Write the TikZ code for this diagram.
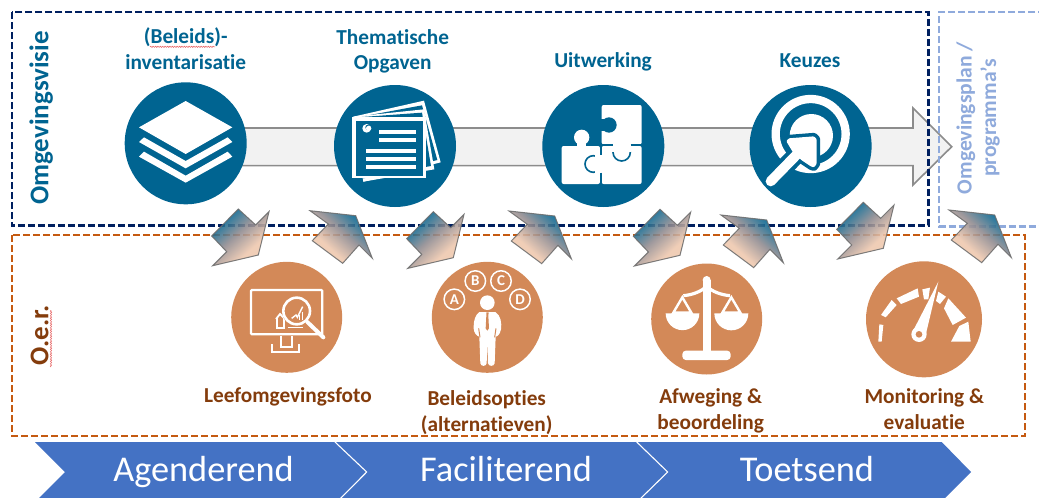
\documentclass[tikz,border=0pt]{standalone}
\usepackage{fontspec}
\setmainfont[Ligatures=NoCommon]{Carlito}
\usetikzlibrary{decorations.pathmorphing}
\definecolor{tblue}{HTML}{006491}
\definecolor{torange}{HTML}{D38958}
\definecolor{tbrown}{HTML}{843C0C}
\definecolor{framenavy}{HTML}{002060}
\definecolor{frameorange}{HTML}{C55A11}
\definecolor{framelight}{HTML}{8FAADC}
\definecolor{bandblue}{HTML}{4472C4}
\definecolor{peach}{HTML}{EFC8AE}
\definecolor{midgrey}{HTML}{8F8A8F}
\definecolor{squig}{HTML}{E86A6A}
\pgfdeclareverticalshading{arrowgrad}{100bp}{color(0bp)=(peach); color(36bp)=(peach); color(54bp)=(midgrey); color(72bp)=(tblue); color(100bp)=(tblue)}
\tikzset{
  x=1pt,y=-1pt,
  frame/.style={line width=2.6pt,dash pattern=on 7pt off 3pt},
  topdisc/.style={circle,fill=tblue,inner sep=0pt,minimum size=122pt},
  lowdisc/.style={circle,fill=torange,inner sep=0pt,minimum size=111pt},
  toplabel/.style={anchor=base,text=tblue,font=\fontsize{21.3}{24}\selectfont\bfseries,inner sep=0pt},
  lowlabel/.style={anchor=base,text=tbrown,font=\fontsize{21.3}{24}\selectfont\bfseries,inner sep=0pt},
  sidelabel/.style={anchor=base,rotate=90,inner sep=0pt,font=\fontsize{27}{30}\selectfont\bfseries},
  planlabel/.style={anchor=base,rotate=90,inner sep=0pt,text=framelight,font=\fontsize{21.6}{26}\selectfont\bfseries},
  bandlabel/.style={anchor=base,text=white,inner sep=0pt,font=\fontsize{36.3}{40}\selectfont},
  wavy/.style={draw=squig,line width=0.6pt,decorate,decoration={snake,amplitude=0.6pt,segment length=2.4pt}},
  smallarrow/.style={draw=gray!85!black,line width=1pt,opacity=0.88,shading=arrowgrad},
  pics/arrowdown/.style={code={
    \path[smallarrow,shade,shading angle=42]
      (0,0)--(17.4,16)--(30.7,2.7)--(20,46)--(-25.6,56.7)--(-11.6,42.7)--(-26.6,27)--cycle;}},
  pics/arrowup/.style={code={
    \path[smallarrow,shade,shading angle=-42]
      (0,0)--(45.7,5)--(62.3,47.6)--(49,34.3)--(32.7,52.6)--(2.3,30)--(18.3,13.3)--cycle;}},
  wl/.style={white,line width=2.3pt},
  icon/.style={x=0.33333pt,y=-0.33333pt},
}
\begin{document}
\begin{tikzpicture}
\useasboundingbox (0,0) rectangle (1039,498);
\fill[white] (0,0) rectangle (1039,498);

% band
\begin{scope}
\clip (0,0) rectangle (1039,498);
\fill[bandblue] (35,442)--(941.7,442)--(971,472)--(941,502)--(35,502)--(65,472)--cycle;
\draw[white,line width=1.1pt] (335,442)--(366.7,472)--(337,502);
\draw[white,line width=1.1pt] (636.7,442)--(667.7,472)--(637,502);
\end{scope}
\node[bandlabel] (b1) at (203.5,481.7) {Agenderend};
\node[bandlabel] (b2) at (506,481.7) {Faciliterend};
\node[bandlabel] (b3) at (807,481.7) {Toetsend};

% big arrow
\draw[fill=black!5,draw=black!45,line width=1.6pt]
  (185,128)--(913,128)--(913,108)--(951.7,146.7)--(913,185)--(913,165.6)--(185,165.6)--cycle;

% frames
\draw[frame,framenavy] (12,12) rectangle (928.5,225.7);
\draw[frame,framelight] (1045,12)--(939,12)--(939,226.5)--(1045,226.5);
\draw[frame,frameorange] (12,235) rectangle (1025,436);

% small arrows
\pic at (238.3,209) {arrowdown};
\pic at (433.3,211.7) {arrowdown};
\pic at (660,209.3) {arrowdown};
\pic at (863.3,202.3) {arrowdown};
\pic at (310,210.7) {arrowup};
\pic at (509,211) {arrowup};
\pic at (721,215) {arrowup};
\pic at (949,210) {arrowup};

% top discs
\node[topdisc] (d1) at (185.7,143.3) {};
\node[topdisc] (d2) at (395,146) {};
\node[topdisc] (d3) at (603.3,146) {};
\node[topdisc] (d4) at (810.6,146) {};
% low discs
\node[lowdisc] (e1) at (286.7,317.3) {};
\node[lowdisc] (e2) at (487.3,317.3) {};
\node[lowdisc] (e3) at (706.7,319) {};
\node[lowdisc,minimum size=116pt] (e4) at (924,319.3) {};

% layers icon
\begin{scope}[shift={(100,0)},icon]
\fill[white] (257,303)--(397,382)--(257,462)--(117,382)--cycle;
\fill[white] (117,426)--(132,412)--(257,483)--(383,412)--(397,426)--(257,505)--cycle;
\fill[white] (117,470)--(132,455)--(257,527)--(383,455)--(397,470)--(257,548)--cycle;
\end{scope}

% documents icon
\begin{scope}[shift={(100,0)},icon]
\fill[white] (760,350)--(972,302)--(1022,487)--(790,545)--cycle;
\fill[tblue] (772,352)--(966,316)--(1012,480)--(790,535)--cycle;
\fill[white] (760,350)--(972,328)--(1003,508)--(790,545)--cycle;
\fill[tblue] (772,352)--(966,338)--(993,498)--(790,535)--cycle;
\fill[white] (757,350) rectangle (978,535);
\fill[tblue] (768,362) rectangle (968,527);
\fill[white] (800,385) circle (13);
\fill[tblue] (804,382) circle (8);
\fill[white] (806,385) circle (8);
\fill[white] (838,390) rectangle (947,401);
\fill[white] (838,415) rectangle (947,426);
\fill[white] (797,448) rectangle (947,459);
\fill[white] (797,472) rectangle (947,483);
\fill[white] (797,496) rectangle (947,507);
\end{scope}

% puzzle icon
\begin{scope}[shift={(540,84)},icon]
\fill[white,rounded corners=2pt] (185,63) rectangle (305,181);
\fill[tblue] (207,123) circle (23);
\fill[tblue] (183,105) rectangle (200,141);
\fill[white,rounded corners=2pt] (185,186) rectangle (305,300);
\fill[white,rounded corners=2pt] (65,186) rectangle (180,300);
\fill[white] (125,160) circle (23);
\fill[white] (112,170) rectangle (138,190);
\draw[tblue,line width=1.6pt,fill=white] (160,240) circle (25);
\fill[white] (166,213) rectangle (190,267);
\draw[tblue,line width=1.6pt] (183,186)--(183,214) (183,266)--(183,302);
\draw[tblue,line width=1.6pt,fill=white] (245,205) circle (26);
\fill[white] (217,168) rectangle (273,205);
\draw[tblue,line width=1.6pt] (183,183.5)--(218,183.5) (272,183.5)--(307,183.5);
\end{scope}

% target icon
\begin{scope}[shift={(748,84)},icon]
\draw[white,line width=8.3pt] (188,150) circle (105);
\fill[white] (190,155) circle (65);
\draw[tblue,line width=18pt] (68,292)--(150,208);
\draw[tblue,line width=7pt,line join=round,fill=tblue] (115,172)--(122,163)--(198,157)--(206,165)--(206,240)--(198,250)--(190,248)--(160,228)--(135,205)--cycle;
\draw[white,line width=10pt,line cap=round] (68,292)--(150,208);
\fill[white,rounded corners=1pt] (115,172)--(122,163)--(198,157)--(206,165)--(206,240)--(198,250)--(190,248)--(160,228)--(135,205)--cycle;
\end{scope}

% monitor icon
\begin{scope}[shift={(190,200)},icon]
\draw[wl,rounded corners=1pt] (183,270) rectangle (397,403);
\draw[white,line width=1.8pt] (272,407)--(272,440)--(305,440)--(305,407);
\draw[white,line width=1.8pt] (247,432)--(247,457)--(327,457)--(327,432);
\draw[white,line width=1.8pt] (258,357)--(270,342)--(285,357);
\draw[white,line width=1.8pt] (262,355)--(262,385)--(283,385)--(283,352);
\fill[torange] (320,333) circle (44);
\draw[white,line width=2.6pt] (320,333) circle (40);
\draw[white,line width=4pt,line cap=round] (352,366)--(400,412);
\draw[white,line width=1.4pt] (305,355)--(318,345)--(322,352)--(338,320);
\draw[white,line width=1.4pt] (328,360)--(328,345) (338,360)--(338,335);
\draw[white,line width=1.4pt] (295,383)--(340,383);
\end{scope}

% person icon
\begin{scope}[shift={(190,200)},icon]
\fill[white] (892,308) circle (22);
\fill[white] (868,336)--(916,336) .. controls (932,345) and (936,370) .. (933,388) .. controls (930,405) and (920,410) .. (917,410)
  --(914,490) .. controls (912,500) and (896,500) .. (894,490)--(892,425)--(890,490) .. controls (888,500) and (873,500) .. (871,490)
  --(868,410) .. controls (860,408) and (852,400) .. (851,385) .. controls (850,365) and (855,345) .. (868,336)--cycle;
\fill[torange] (889,337)--(896,337)--(895,347)--(897,385)--(892,392)--(887,385)--(889,347)--cycle;
\draw[torange,line width=1pt] (866,385)--(870,412) (918,385)--(914,412);
\foreach \cx/\cy/\nm/\lt in {793/298/na/A,856/243/nb/B,933/243/nc/C,990/298/nd/D}{
  \node[circle,draw=white,line width=1.5pt,inner sep=0pt,minimum size=20.5pt,text=white,font=\fontsize{15}{15}\selectfont\bfseries] (\nm) at (\cx,\cy) {\lt};
}
\end{scope}

% scales icon
\begin{scope}[shift={(620,200)},icon]
\fill[white] (250,240) rectangle (272,465);
\fill[white] (260,240) circle (12);
\fill[white,rounded corners=3.5pt] (187,452) rectangle (332,480);
\draw[white,line width=3.2pt] (190,287) .. controls (215,285) and (245,275) .. (260,258) .. controls (275,275) and (305,285) .. (330,287);
\fill[white] (137,340) arc[start angle=180,end angle=0,radius=50.5]--cycle;
\fill[white] (283,340) arc[start angle=180,end angle=0,radius=51]--cycle;
\draw[white,line width=2.4pt] (187,292)--(160,338)--(214,338)--cycle;
\draw[white,line width=2.4pt] (334,292)--(307,338)--(361,338)--cycle;
\end{scope}

% gauge icon
\begin{scope}[shift={(620,200)},icon]
\fill[white] (775,425)--(785,425)--(790,375)--(778,373)--cycle;
\fill[white] (783,345)--(815,300)--(830,315)--(797,352)--cycle;
\fill[white] (830,295)--(893,265)--(897,290)--(843,312)--cycle;
\fill[white] (907,268)--(930,263)--(925,298)--(912,298)--cycle;
\fill[white] (955,275)--(978,290)--(960,312)--(948,303)--cycle;
\fill[white] (985,295)--(1038,353)--(998,375)--(972,325)--cycle;
\fill[white] (1018,378)--(1045,365)--(1052,425)--(993,425)--cycle;
\fill[white] (955,245)--(917,405)--(878,395)--cycle;
\fill[white] (897,403) circle (23);
\fill[torange] (897,403) circle (10);
\end{scope}

% labels
\node[toplabel] (t1a) at (185.7,43.5) {(Beleids)-};
\node[toplabel] (t1b) at (185.7,69) {inventarisatie};
\node[toplabel] (t2a) at (392.7,44) {Thematische};
\node[toplabel] (t2b) at (392.7,69) {Opgaven};
\node[toplabel] (t3) at (603,67.7) {Uitwerking};
\node[toplabel] (t4) at (810,67.7) {Keuzes};
\node[lowlabel] (l1) at (288,402) {Leefomgevingsfoto};
\node[lowlabel] (l2a) at (486.7,405) {Beleidsopties};
\node[lowlabel] (l2b) at (486.7,431) {(alternatieven)};
\node[lowlabel] (l3a) at (710.7,403) {Afweging \&};
\node[lowlabel] (l3b) at (710.7,429) {beoordeling};
\node[lowlabel] (l4a) at (924.3,403) {Monitoring \&};
\node[lowlabel] (l4b) at (924.3,429) {evaluatie};
\node[sidelabel,text=tblue] (s1) at (48.3,118) {Omgevingsvisie};
\node[sidelabel,text=tbrown] (s2) at (48.3,335) {O.e.r.};
\node[planlabel] (p1) at (971.7,118) {Omgevingsplan /};
\node[planlabel] (p2) at (996,118) {programma’s};
% spell-check squiggles
\path[wavy] (150,46.8)--(215,46.8);
\path[wavy] (51,367)--(51,310);
\end{tikzpicture}
\end{document}
